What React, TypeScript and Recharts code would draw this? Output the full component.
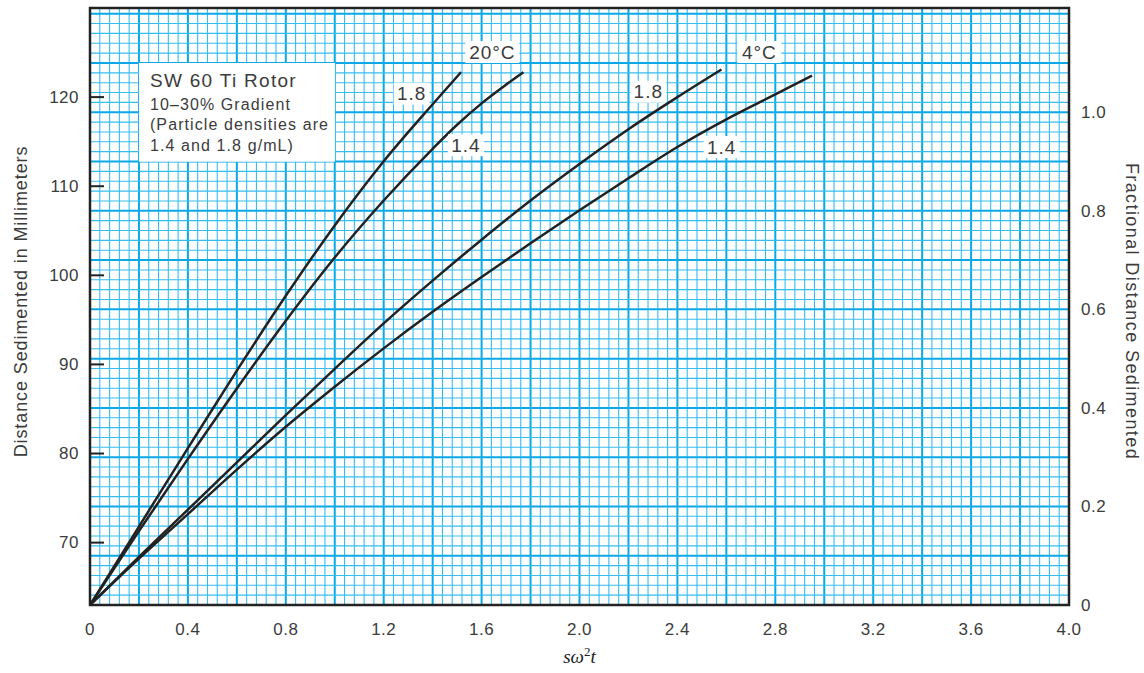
import { LineChart, Line, XAxis, YAxis, ReferenceLine, ReferenceArea, ReferenceDot } from 'recharts'

// axis ticks
const xTicks = [0, 0.4, 0.8, 1.2, 1.6, 2.0, 2.4, 2.8, 3.2, 3.6, 4.0]
const mmTicks = [70, 80, 90, 100, 110, 120]
const fracTicks = [0, 0.2, 0.4, 0.6, 0.8, 1.0]

// left axis (mm) and right axis (fraction) share the same pixels
const MM_MIN = 63
const MM_MAX = 130
const MM_PER_FRAC = 55.3
const FRAC_MAX = (MM_MAX - MM_MIN) / MM_PER_FRAC

// 20 °C, density 1.8
const x20_18 = [0, 0.2, 0.4, 0.6, 0.8, 1.0, 1.2, 1.4, 1.516]
const mm20_18 = [63, 71.8, 80.6, 89.3, 97.7, 105.6, 112.8, 119.2, 122.8]
// 20 °C, density 1.4
const x20_14 = [0, 0.2, 0.4, 0.6, 0.8, 1.0, 1.2, 1.4, 1.5, 1.6, 1.7, 1.771]
const mm20_14 = [63, 71.3, 79.4, 87.3, 94.9, 102.0, 108.4, 114.2, 116.9, 119.3, 121.4, 122.8]
// 4 °C, density 1.8
const x4_18 = [0, 0.2, 0.4, 0.6, 0.8, 1.0, 1.2, 1.4, 1.6, 1.8, 2.0, 2.2, 2.4, 2.58]
const mm4_18 = [63, 68.4, 73.7, 79.0, 84.3, 89.5, 94.6, 99.4, 104.0, 108.4, 112.5, 116.4, 120.0, 123.1]
// 4 °C, density 1.4
const x4_14 = [0, 0.2, 0.4, 0.6, 0.8, 1.0, 1.2, 1.4, 1.6, 1.8, 2.0, 2.2, 2.4, 2.6, 2.8, 2.95]
const mm4_14 = [63, 68.2, 73.2, 78.2, 83.0, 87.5, 91.8, 95.9, 99.8, 103.6, 107.3, 110.9, 114.4, 117.5, 120.3, 122.4]

// curve labels: [text, x, mm, box width]
const curveLabels: [string, number, number, number][] = [
  ['20°C', 1.644, 125.06, 54],
  ['1.8', 1.314, 120.4, 36],
  ['1.4', 1.536, 114.6, 36],
  ['4°C', 2.735, 125.06, 44],
  ['1.8', 2.281, 120.6, 36],
  ['1.4', 2.581, 114.4, 36],
]

const legendLines = ['SW 60 Ti Rotor', '10–30% Gradient', '(Particle densities are', '1.4 and 1.8 g/mL)']

const minorX = Array.from({ length: 101 }, (_, i) => +(i * 0.04).toFixed(2))
const minorFrac = Array.from({ length: 61 }, (_, i) => +(i * 0.02).toFixed(2))

const zip = (xs: number[], ys: number[]) => xs.map((x, i) => ({ x, y: ys[i] }))

const FONT = '"Liberation Sans", Arial, sans-serif'
const TEXT = '#3c3c3c'
const GRID = '#36bdf0'
const GRID_MAJOR = '#0aa8e6'

const LeftTick = (props: any) => {
  const { x, y, payload } = props
  return (
    <g>
      <line x1={x} x2={x + 14} y1={y} y2={y} stroke="#222" strokeWidth={2} />
      <text x={x - 11} y={y} textAnchor="end" dominantBaseline="central" fontSize={17} letterSpacing={0.5} fontFamily={FONT} fill={TEXT}>
        {payload.value}
      </text>
    </g>
  )
}

const boxLabel = (text: string, w: number) => (props: any) => {
  const vb = props.viewBox
  const cx = vb.x + vb.width / 2
  const cy = vb.y + vb.height / 2
  return (
    <g>
      <rect x={cx - w / 2} y={cy - 11} width={w} height={22} fill="#fff" />
      <text x={cx} y={cy} textAnchor="middle" dominantBaseline="central" fontSize={19} letterSpacing={1} fontFamily={FONT} fill={TEXT}>
        {text}
      </text>
    </g>
  )
}

const legendContent = (props: any) => {
  const vb = props.viewBox
  const baselines = [24, 47, 67, 88]
  return (
    <g>
      <rect x={vb.x} y={vb.y} width={vb.width} height={vb.height} fill="#fff" />
      {legendLines.map((t, i) => (
        <text
          key={i}
          x={vb.x + 11}
          y={vb.y + baselines[i]}
          fontSize={i === 0 ? 19 : 16}
          letterSpacing={i === 0 ? 1.3 : 1.1}
          fontFamily={FONT}
          fill={TEXT}
        >
          {t}
        </text>
      ))}
    </g>
  )
}

export default function App() {
  const series = [zip(x20_18, mm20_18), zip(x20_14, mm20_14), zip(x4_18, mm4_18), zip(x4_14, mm4_14)]

  return (
    <div style={{ position: 'absolute', left: 0, top: 0, background: '#fff' }}>
      <LineChart width={1144} height={673} margin={{ top: 8, right: 0, bottom: 28, left: 0 }}>
        <XAxis
          type="number"
          dataKey="x"
          domain={[0, 4]}
          ticks={xTicks}
          allowDataOverflow
          tickFormatter={v => (v === 0 ? '0' : v.toFixed(1))}
          axisLine={false}
          tickLine={false}
          tickMargin={12}
          height={40}
          tick={{ fontSize: 17, fontFamily: FONT, fill: TEXT, letterSpacing: 0.5 }}
          label={{
            content: (p: any) => {
              const vb = p.viewBox
              return (
                <text x={vb.x + vb.width / 2} y={vb.y + 58} textAnchor="middle" fontFamily='"Liberation Serif", serif' fontSize={19} fill="#222">
                  <tspan fontStyle="italic">sω</tspan>
                  <tspan dy={-7} fontSize={13}>2</tspan>
                  <tspan dy={7} fontStyle="italic">t</tspan>
                </text>
              )
            },
          }}
        />
        <YAxis
          yAxisId="mm"
          type="number"
          domain={[MM_MIN, MM_MAX]}
          ticks={mmTicks}
          allowDataOverflow
          width={90}
          axisLine={false}
          tickLine={false}
          tickSize={0}
          tickMargin={0}
          tick={<LeftTick />}
          label={{
            content: (p: any) => {
              const vb = p.viewBox
              const cx = vb.x + 21
              const cy = vb.y + vb.height / 2 - 5
              return (
                <text x={cx} y={cy} transform={`rotate(-90 ${cx} ${cy})`} textAnchor="middle" dominantBaseline="central" fontSize={18} letterSpacing={0.9} fontFamily={FONT} fill={TEXT}>
                  Distance Sedimented in Millimeters
                </text>
              )
            },
          }}
        />
        <YAxis
          yAxisId="frac"
          orientation="right"
          type="number"
          domain={[0, FRAC_MAX]}
          ticks={fracTicks}
          allowDataOverflow
          width={75}
          axisLine={false}
          tickLine={false}
          tickSize={0}
          tickMargin={12}
          tickFormatter={v => (v === 0 ? '0' : v.toFixed(1))}
          tick={{ fontSize: 17, fontFamily: FONT, fill: TEXT, letterSpacing: 0.5 }}
          label={{
            content: (p: any) => {
              const vb = p.viewBox
              const cx = vb.x + 63
              const cy = vb.y + vb.height / 2 + 5
              return (
                <text x={cx} y={cy} transform={`rotate(90 ${cx} ${cy})`} textAnchor="middle" dominantBaseline="central" fontSize={18} letterSpacing={1.4} fontFamily={FONT} fill={TEXT}>
                  Fractional Distance Sedimented
                </text>
              )
            },
          }}
        />

        {/* graph paper */}
        {minorX.map((v, i) => (
          <ReferenceLine key={'vx' + i} x={v} yAxisId="frac" zIndex={-50} stroke={i % 5 === 0 ? GRID_MAJOR : GRID} strokeWidth={i % 5 === 0 ? 2 : 1.1} />
        ))}
        {minorFrac.map((v, i) => (
          <ReferenceLine key={'hy' + i} y={v} yAxisId="frac" zIndex={-50} stroke={i % 5 === 0 ? GRID_MAJOR : GRID} strokeWidth={i % 5 === 0 ? 2 : 1.1} />
        ))}

        {/* legend box */}
        <ReferenceArea x1={0.2} x2={1.0} y1={0.9} y2={1.1} yAxisId="frac" zIndex={-10} fill="#fff" fillOpacity={1} stroke="none" label={legendContent} />

        {/* frame */}
        <ReferenceArea x1={0} x2={4} y1={0} y2={FRAC_MAX} yAxisId="frac" fill="none" stroke="#222" strokeWidth={2.5} />

        {series.map((d, i) => (
          <Line
            key={i}
            data={d}
            yAxisId="mm"
            dataKey="y"
            type="monotone"
            stroke="#222"
            strokeWidth={2.5}
            dot={false}
            activeDot={false}
            isAnimationActive={false}
          />
        ))}

        {curveLabels.map(([t, x, y, w], i) => (
          <ReferenceDot key={'lb' + i} x={x} y={y} yAxisId="mm" r={1} fill="none" stroke="none" label={boxLabel(t, w)} />
        ))}
      </LineChart>
    </div>
  )
}
